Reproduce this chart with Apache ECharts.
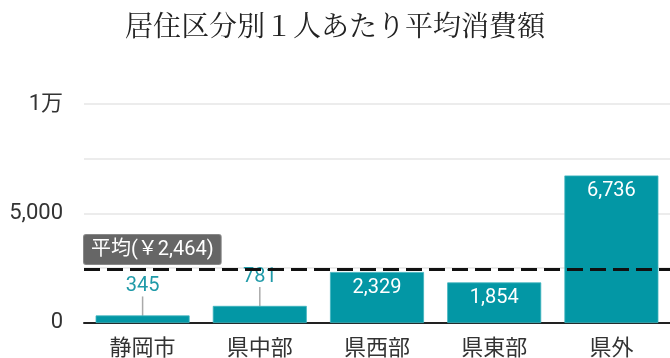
<!DOCTYPE html>
<html>
<head>
<meta charset="utf-8">
<script src="https://cdn.jsdelivr.net/npm/echarts@6/dist/echarts.min.js"></script>
<style>
  html, body { margin: 0; padding: 0; background: #fff; }
  #chart { width: 670px; height: 358px; }
</style>
</head>
<body>
<div id="chart"></div>
<script>
// Per-capita spending by area of residence
const categories = ['静岡市', '県中部', '県西部', '県東部', '県外'];
const values = [345, 781, 2329, 1854, 6736];
const average = 2464;
const yTickLabels = { 0: '0', 5000: '5,000', 10000: '1万' };
// Bars whose value label sits above the bar with a leader line
const outsideLabelCats = ['静岡市', '県中部'];

const teal = '#0397a5';
const fontFamily = 'Roboto, "Noto Sans CJK JP", sans-serif';

const chart = echarts.init(document.getElementById('chart'));

const barData = categories.map((c, i) => {
  const outside = outsideLabelCats.includes(c);
  return {
    value: values[i],
    label: outside
      ? { position: 'top', distance: 19, color: '#1f9aa8' }
      : { position: 'insideTop', distance: 6, color: '#ffffff' }
  };
});

chart.setOption({
  animation: false,
  title: {
    text: '居住区分別１人あたり平均消費額',
    left: 'center',
    top: 6,
    textStyle: {
      fontFamily: '"Noto Serif CJK JP", "Noto Sans CJK JP", serif',
      fontWeight: 'normal',
      fontSize: 28,
      color: '#222'
    }
  },
  grid: { left: 84, top: 104, width: 593, height: 219 },
  xAxis: {
    type: 'category',
    data: categories,
    axisTick: { show: false },
    axisLine: { lineStyle: { color: '#222', width: 2 } },
    axisLabel: {
      color: '#333',
      fontSize: 22,
      margin: 13,
      fontFamily: '"Noto Sans CJK JP", sans-serif'
    }
  },
  yAxis: {
    type: 'value',
    min: 0,
    max: 10000,
    interval: 2500,
    axisLine: { show: false },
    axisTick: { show: false },
    splitLine: { lineStyle: { color: '#e6e6e6', width: 1.5 } },
    axisLabel: {
      color: '#333',
      fontSize: 22,
      margin: 21,
      fontFamily: fontFamily,
      formatter: v => (yTickLabels[v] !== undefined ? yTickLabels[v] : '')
    }
  },
  series: [{
    type: 'bar',
    data: barData,
    barWidth: 94,
    itemStyle: { color: teal, borderColor: '#3fb4be', borderWidth: 0.8 },
    label: {
      show: true,
      fontSize: 20,
      fontFamily: fontFamily,
      formatter: p => p.value.toLocaleString('en-US')
    },
    labelLine: {
      show: true,
      lineStyle: { color: '#aaaaaa', width: 1.5 }
    },
    labelLayout: function () {
      return {};
    },
    markLine: {
      silent: true,
      symbol: 'none',
      data: [{ yAxis: average }],
      lineStyle: { color: '#111', type: [16, 7], width: 3 },
      label: {
        position: 'insideStartTop',
        distance: [0, 5],
        formatter: '平均(￥' + average.toLocaleString('en-US') + ')',
        color: '#fff',
        fontSize: 20,
        fontFamily: fontFamily,
        backgroundColor: '#666',
        borderColor: '#888',
        borderWidth: 1,
        borderRadius: 2,
        padding: [5, 7, 4, 7]
      }
    },
    z: 2
  }]
});
</script>
</body>
</html>
